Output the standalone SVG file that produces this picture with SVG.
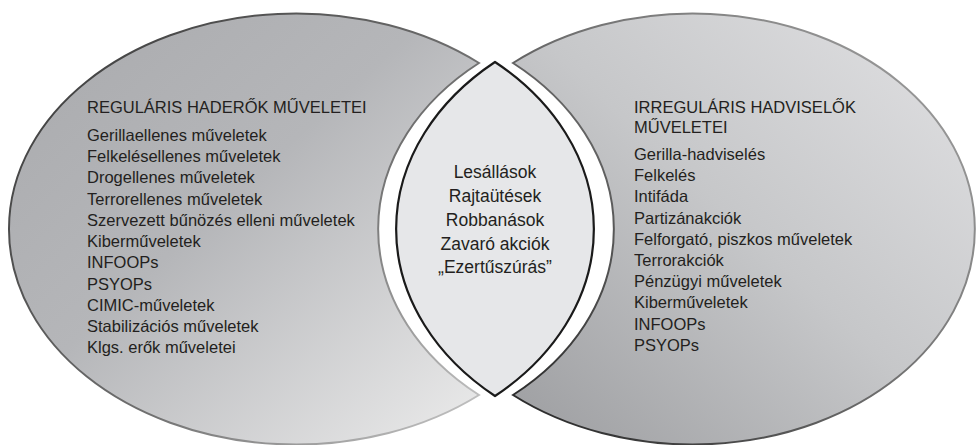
<svg xmlns="http://www.w3.org/2000/svg" width="979" height="445" viewBox="0 0 979 445">
  <defs>
    <linearGradient id="gLeft" x1="0" y1="0" x2="1" y2="1">
      <stop offset="0" stop-color="#a9aaad"/>
      <stop offset="0.45" stop-color="#b5b6b9"/>
      <stop offset="1" stop-color="#ececec"/>
    </linearGradient>
    <linearGradient id="gRight" x1="1" y1="0" x2="0" y2="1">
      <stop offset="0" stop-color="#e2e2e4"/>
      <stop offset="0.5" stop-color="#c6c7c9"/>
      <stop offset="1" stop-color="#9c9da0"/>
    </linearGradient>
    <linearGradient id="sLeft" gradientUnits="userSpaceOnUse" x1="0" y1="0" x2="480" y2="440">
      <stop offset="0" stop-color="#333333"/>
      <stop offset="0.6" stop-color="#707070"/>
      <stop offset="1" stop-color="#c8c8c8"/>
    </linearGradient>
    <linearGradient id="sRight" gradientUnits="userSpaceOnUse" x1="980" y1="0" x2="500" y2="440">
      <stop offset="0" stop-color="#a8a8a8"/>
      <stop offset="0.5" stop-color="#707070"/>
      <stop offset="1" stop-color="#222222"/>
    </linearGradient>
  </defs>
  <style>
    text { font-family: "Liberation Sans", Arial, sans-serif; fill: #231f20; }
    .side { font-size: 16.5px; }
    .mid { font-size: 17.5px; text-anchor: middle; }
    .lens { fill: #e6e7e9; stroke: #1a1a1a; stroke-width: 2.2; }
  </style>

  <g id="node-regular">
    <path d="M 479 63 A 287 215.5 0 1 0 479 395 A 280 216 0 0 1 479 63 Z" fill="url(#gLeft)" stroke="url(#sLeft)" stroke-width="2"/>
    <text class="side" x="87" y="113.3">REGULÁRIS HADERŐK MŰVELETEI</text>
    <text class="side" x="87" y="140.7">Gerillaellenes műveletek</text>
    <text class="side" x="87" y="162">Felkelésellenes műveletek</text>
    <text class="side" x="87" y="183.2">Drogellenes műveletek</text>
    <text class="side" x="87" y="204.5">Terrorellenes műveletek</text>
    <text class="side" x="87" y="225.7">Szervezett bűnözés elleni műveletek</text>
    <text class="side" x="87" y="247">Kiberműveletek</text>
    <text class="side" x="87" y="268.2">INFOOPs</text>
    <text class="side" x="87" y="289.5">PSYOPs</text>
    <text class="side" x="87" y="310.7">CIMIC-műveletek</text>
    <text class="side" x="87" y="332">Stabilizációs műveletek</text>
    <text class="side" x="87" y="353.3">Klgs. erők műveletei</text>
  </g>

  <g id="node-irregular">
    <path d="M 513 63 A 282 215.5 0 1 1 513 395 A 280 216 0 0 0 513 63 Z" fill="url(#gRight)" stroke="url(#sRight)" stroke-width="2"/>
    <text class="side" x="634" y="113.3">IRREGULÁRIS HADVISELŐK</text>
    <text class="side" x="634" y="132.6">MŰVELETEI</text>
    <text class="side" x="634" y="160">Gerilla-hadviselés</text>
    <text class="side" x="634" y="181.2">Felkelés</text>
    <text class="side" x="634" y="202.4">Intifáda</text>
    <text class="side" x="634" y="223.6">Partizánakciók</text>
    <text class="side" x="634" y="244.8">Felforgató, piszkos műveletek</text>
    <text class="side" x="634" y="266">Terrorakciók</text>
    <text class="side" x="634" y="287.2">Pénzügyi műveletek</text>
    <text class="side" x="634" y="308.4">Kiberműveletek</text>
    <text class="side" x="634" y="329.6">INFOOPs</text>
    <text class="side" x="634" y="350.8">PSYOPs</text>
  </g>

  <g id="node-common">
    <path class="lens" d="M 495 62 A 280 219 0 0 0 495 396 A 280 219 0 0 0 495 62 Z"/>
    <text class="mid" x="495" y="178.3">Lesállások</text>
    <text class="mid" x="495" y="202">Rajtaütések</text>
    <text class="mid" x="495" y="225.7">Robbanások</text>
    <text class="mid" x="495" y="249.5">Zavaró akciók</text>
    <text class="mid" x="495" y="273.3">„Ezertűszúrás”</text>
  </g>

  <g id="connectors"/>
</svg>
